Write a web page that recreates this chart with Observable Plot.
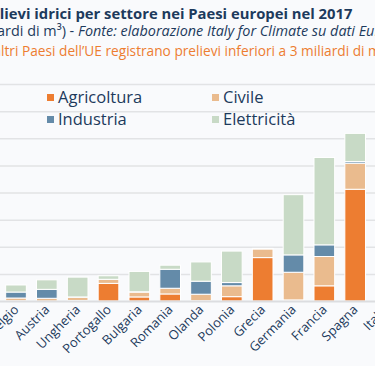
<!DOCTYPE html>
<html>
<head>
<meta charset="utf-8">
<script src="https://cdn.jsdelivr.net/npm/d3@7"></script>
<script src="https://cdn.jsdelivr.net/npm/@observablehq/plot@0.6"></script>
<style>
  html, body { margin:0; padding:0; }
  body { width:375px; height:366px; overflow:hidden; position:relative; background:#f9fafc; font-family:"Open Sans", sans-serif; color:#1d3a5c; }
  .line { position:absolute; white-space:nowrap; line-height:1; }
  .title { font-size:14.8px; font-weight:700; top:6.4px; }
  .sub { font-size:14.4px; top:24.2px; }
  .note { font-size:13.7px; top:43.8px; color:#ed7d31; }
  .leg { position:absolute; white-space:nowrap; line-height:1; font-size:16.5px; }
  .sq { position:absolute; width:7px; height:7px; }
  #chart { position:absolute; left:-60px; top:70px; width:500px; }
  #chart svg { max-width:none !important; }
</style>
</head>
<body>
<div class="line title" style="left:-25px">Prelievi idrici per settore nei Paesi europei nel 2017</div>
<div class="line sub" style="left:-31px">(Miliardi di m³) - <i>Fonte: elaborazione Italy for Climate su dati Eurostat</i></div>
<div class="line note" style="left:-27px">Gli altri Paesi dell’UE registrano prelievi inferiori a 3 miliardi di m³</div>
<div id="chart"></div>
<div id="legend"></div>
<script>
const countries = ["Belgio","Austria","Ungheria","Portogallo","Bulgaria","Romania","Olanda","Polonia","Grecia","Germania","Francia","Spagna","Italia"];
const sectors = ["Agricoltura","Civile","Industria","Elettricità"];
const colors = ["#ed7d31","#eabb8e","#648ba9","#c8dac6"];
const agricoltura = [0.05, 0.0, 0.1, 3.25, 0.75, 1.3, 0.05, 0.8, 8.0, 0.2, 2.8, 20.6, 17.0];
const civile      = [0.5, 0.5, 0.6, 0.75, 0.9, 1.05, 1.2, 2.0, 1.6, 5.1, 5.4, 4.8, 9.2];
const industria   = [1.1, 1.65, 0.05, 0.0, 0.05, 3.5, 2.4, 0.6, 0.05, 3.2, 2.15, 0.3, 5.5];
const elettricita = [1.3, 1.75, 3.65, 0.65, 3.75, 0.75, 3.55, 5.8, 0.05, 11.1, 16.1, 5.2, 2.5];
const yTicks = [0, 5, 10, 15, 20, 25, 30, 35, 40];

const series = [agricoltura, civile, industria, elettricita];
const data = [];
sectors.forEach((s, si) => countries.forEach((c, ci) => data.push({country: c, sector: s, value: series[si][ci]})));

const chart = Plot.plot({
  width: 500,
  height: 320,
  marginLeft: 55.5,
  marginRight: 33.5,
  marginTop: 14,
  marginBottom: 89,
  style: {background: "transparent", fontFamily: "Open Sans, sans-serif", color: "#1d3a5c", maxWidth: "none"},
  x: {domain: countries, padding: 0.33, round: false, label: null},
  y: {domain: [0, 40], label: null},
  color: {domain: sectors, range: colors},
  marks: [
    Plot.ruleY(yTicks.slice(1), {stroke: "#e2e3e5", strokeWidth: 1.5}),
    Plot.barY(data, Plot.stackY({x: "country", y: "value", fill: "sector", stroke: "#ffffff", strokeWidth: 1, order: sectors})),
    Plot.ruleY([0], {stroke: "#dcdde0", strokeWidth: 2}),
    Plot.axisY({ticks: yTicks, tickSize: 0, tickPadding: 6, fontSize: 12, label: null}),
    Plot.axisX({tickSize: 0, tickPadding: 6, tickRotate: -45, fontSize: 13, label: null})
  ]
});
document.getElementById("chart").appendChild(chart);

const legPos = [[47, 0], [212, 0], [47, 22], [212, 22]];
const leg = document.getElementById("legend");
sectors.forEach((s, i) => {
  const [lx, dy] = legPos[i];
  const sq = document.createElement("div");
  sq.className = "sq";
  sq.style.left = lx + "px"; sq.style.top = (94 + dy) + "px"; sq.style.background = colors[i];
  leg.appendChild(sq);
  const t = document.createElement("div");
  t.className = "leg";
  t.textContent = s;
  t.style.left = (lx + 11) + "px"; t.style.top = (89 + dy) + "px";
  leg.appendChild(t);
});
</script>
</body>
</html>
